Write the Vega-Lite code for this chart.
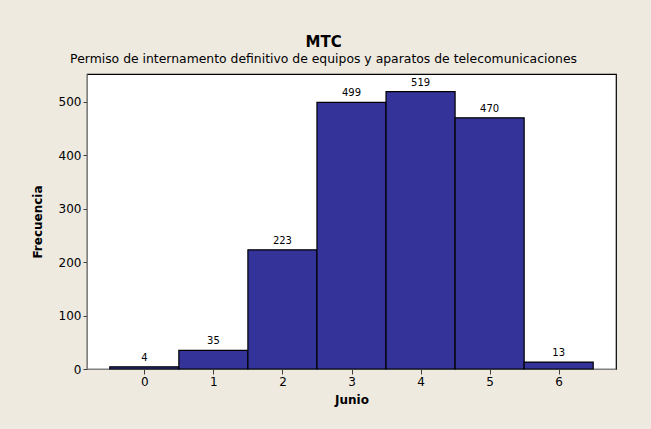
{
  "$schema": "https://vega.github.io/schema/vega-lite/v6.json",
  "autosize": "none",
  "width": 529,
  "height": 295,
  "padding": {"left": 87, "top": 74, "right": 35, "bottom": 60},
  "background": "#EEEAE0",
  "config": {
    "font": "DejaVu Sans",
    "view": {"fill": "#FFFFFF", "stroke": "#000000", "strokeWidth": 1.2},
    "axis": {"grid": false, "labelFont": "DejaVu Sans", "labelFontSize": 12, "labelColor": "#000000", "titleFont": "DejaVu Sans", "titleFontSize": 12, "titleFontWeight": "bold", "titleColor": "#000000", "domainColor": "#808080", "tickColor": "#404040", "tickSize": 4}
  },
  "title": {
    "text": "MTC",
    "subtitle": "Permiso de internamento definitivo de equipos y aparatos de telecomunicaciones",
    "anchor": "middle",
    "frame": "bounds",
    "font": "DejaVu Sans",
    "fontSize": 15,
    "fontWeight": "bold",
    "color": "#000000",
    "subtitleFont": "DejaVu Sans",
    "subtitleFontSize": 12.4,
    "subtitleColor": "#000000",
    "subtitlePadding": 3,
    "offset": 9
  },
  "data": {
    "values": [
      {"junio": 0, "desde": -0.5, "hasta": 0.5, "frecuencia": 4},
      {"junio": 1, "desde": 0.5, "hasta": 1.5, "frecuencia": 35},
      {"junio": 2, "desde": 1.5, "hasta": 2.5, "frecuencia": 223},
      {"junio": 3, "desde": 2.5, "hasta": 3.5, "frecuencia": 499},
      {"junio": 4, "desde": 3.5, "hasta": 4.5, "frecuencia": 519},
      {"junio": 5, "desde": 4.5, "hasta": 5.5, "frecuencia": 470},
      {"junio": 6, "desde": 5.5, "hasta": 6.5, "frecuencia": 13}
    ]
  },
  "layer": [
    {
      "mark": {"type": "bar", "color": "#333399", "stroke": "#000000", "strokeWidth": 1.2},
      "encoding": {
        "x": {"field": "desde", "type": "quantitative", "scale": {"domain": [-0.83, 6.83], "nice": false, "zero": false},
              "axis": {"title": "Junio", "values": [0, 1, 2, 3, 4, 5, 6], "format": "d", "tickSize": 5, "labelPadding": 2, "titlePadding": 7}},
        "x2": {"field": "hasta"},
        "y": {"field": "frecuencia", "type": "quantitative", "scale": {"domain": [0, 552], "nice": false},
              "axis": {"title": "Frecuencia", "values": [0, 100, 200, 300, 400, 500], "labelPadding": 2, "titlePadding": 14}},
        "y2": {"datum": 0}
      }
    },
    {
      "mark": {"type": "text", "fontSize": 10, "dy": -9, "color": "#000000", "font": "DejaVu Sans"},
      "encoding": {
        "x": {"field": "junio", "type": "quantitative"},
        "y": {"field": "frecuencia", "type": "quantitative"},
        "text": {"field": "frecuencia", "type": "quantitative"}
      }
    }
  ]
}
